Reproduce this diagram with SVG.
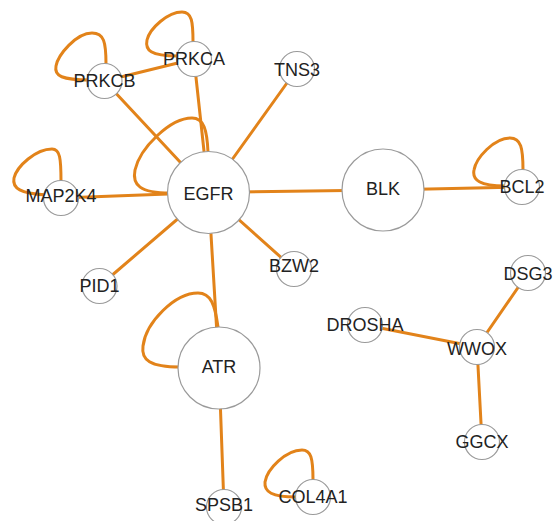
<svg xmlns="http://www.w3.org/2000/svg" width="554" height="521" viewBox="0 0 554 521">
  <style>
    .edge { fill: none; stroke: #e2831a; stroke-width: 3; stroke-linecap: round; }
    .node circle { fill: #ffffff; stroke: #9a9a9a; stroke-width: 1.2; }
    .node text { font-family: "Liberation Sans", Arial, sans-serif; font-size: 18px; fill: #222222; text-anchor: middle; }
  </style>
  <rect width="554" height="521" fill="#ffffff"/>

  <!-- interactions -->
  <g id="edges">
    <line class="edge" x1="104.5" y1="81" x2="194" y2="59"/>
    <line class="edge" x1="104.5" y1="81" x2="208.5" y2="192.5"/>
    <line class="edge" x1="194" y1="59" x2="208.5" y2="192.5"/>
    <line class="edge" x1="61" y1="198" x2="208.5" y2="192.5"/>
    <line class="edge" x1="297" y1="69" x2="208.5" y2="192.5"/>
    <line class="edge" x1="99.5" y1="286" x2="208.5" y2="192.5"/>
    <line class="edge" x1="294" y1="269" x2="208.5" y2="192.5"/>
    <line class="edge" x1="208.5" y1="192.5" x2="383" y2="190"/>
    <line class="edge" x1="383" y1="190" x2="522" y2="187"/>
    <line class="edge" x1="208.5" y1="192.5" x2="219" y2="368"/>
    <line class="edge" x1="219" y1="368" x2="224" y2="507"/>
    <line class="edge" x1="365" y1="325" x2="477" y2="347"/>
    <line class="edge" x1="477" y1="347" x2="528" y2="273"/>
    <line class="edge" x1="477" y1="347" x2="482" y2="442"/>
    <!-- self loops -->
    <path class="edge" d="M 90 80 C 62 80, 54 76, 56 66 C 58 55, 76 33, 92 33 C 104 33, 106 42, 106 64"/>
    <path class="edge" d="M 178 56 C 150 56, 145 50, 147 40 C 150 28, 168 12, 182 12 C 192 12, 193 22, 193 42"/>
    <path class="edge" d="M 48 195 C 20 194, 12 188, 14 178 C 17 166, 36 149, 52 149 C 60 149, 61 158, 61 182"/>
    <path class="edge" d="M 170 193 C 140 193, 132 185, 135 170 C 140 148, 170 118, 192 118 C 204 118, 207 130, 208 152"/>
    <path class="edge" d="M 505 186 C 480 186, 472 180, 474 170 C 476 158, 494 138, 510 138 C 521 138, 523 148, 523 170"/>
    <path class="edge" d="M 180 367 C 150 367, 141 360, 143 346 C 146 322, 175 293, 198 293 C 211 293, 215 305, 218 327"/>
    <path class="edge" d="M 296 497 C 272 497, 264 492, 265 482 C 267 469, 286 450, 302 450 C 311 450, 313 458, 313 480"/>
  </g>

  <g id="node-EGFR" class="node"><circle cx="208.5" cy="192.5" r="41"/><text x="208.5" y="199.5">EGFR</text></g>
  <g id="node-BLK" class="node"><circle cx="383" cy="190" r="41"/><text x="383" y="194.5">BLK</text></g>
  <g id="node-ATR" class="node"><circle cx="219" cy="368" r="41"/><text x="219" y="372.5">ATR</text></g>
  <g id="node-PRKCB" class="node"><circle cx="104.5" cy="81" r="17.5"/><text x="104.5" y="87">PRKCB</text></g>
  <g id="node-PRKCA" class="node"><circle cx="194" cy="59" r="17.5"/><text x="194" y="65">PRKCA</text></g>
  <g id="node-MAP2K4" class="node"><circle cx="61" cy="198" r="17.5"/><text x="61" y="201.5">MAP2K4</text></g>
  <g id="node-TNS3" class="node"><circle cx="297" cy="69" r="17.5"/><text x="297" y="75.5">TNS3</text></g>
  <g id="node-BCL2" class="node"><circle cx="522" cy="187" r="17.5"/><text x="522" y="193">BCL2</text></g>
  <g id="node-PID1" class="node"><circle cx="99.5" cy="286" r="17.5"/><text x="99.5" y="291.5">PID1</text></g>
  <g id="node-BZW2" class="node"><circle cx="294" cy="269" r="17.5"/><text x="294" y="271.5">BZW2</text></g>
  <g id="node-SPSB1" class="node"><circle cx="224" cy="507" r="17.5"/><text x="224" y="511">SPSB1</text></g>
  <g id="node-COL4A1" class="node"><circle cx="313" cy="497" r="17.5"/><text x="313" y="503">COL4A1</text></g>
  <g id="node-DROSHA" class="node"><circle cx="365" cy="325" r="17.5"/><text x="365" y="331">DROSHA</text></g>
  <g id="node-WWOX" class="node"><circle cx="477" cy="347" r="17.5"/><text x="477" y="354.5">WWOX</text></g>
  <g id="node-DSG3" class="node"><circle cx="528" cy="273" r="17.5"/><text x="528" y="280">DSG3</text></g>
  <g id="node-GGCX" class="node"><circle cx="482" cy="442" r="17.5"/><text x="482" y="448">GGCX</text></g>
</svg>
